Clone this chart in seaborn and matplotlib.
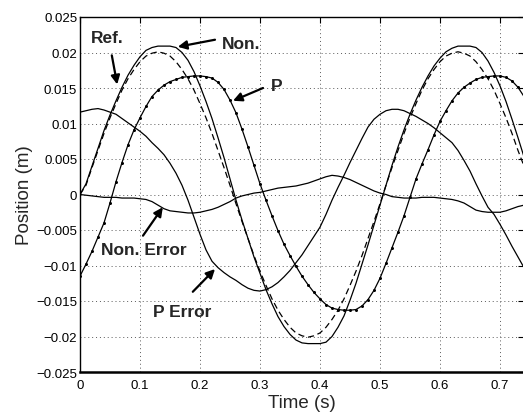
import numpy as np
import pandas as pd
import seaborn as sns
from matplotlib import pyplot as plt
from matplotlib.ticker import FuncFormatter

sns.set_style('white')
plt.rcParams['font.family'] = ['Liberation Sans', 'DejaVu Sans']

# time samples (s)
time = [0.00, 0.01, 0.02, 0.03, 0.04, 0.05, 0.06, 0.07, 0.08, 0.09,
        0.10, 0.11, 0.12, 0.13, 0.14, 0.15, 0.16, 0.17, 0.18, 0.19,
        0.20, 0.21, 0.22, 0.23, 0.24, 0.25, 0.26, 0.27, 0.28, 0.29,
        0.30, 0.31, 0.32, 0.33, 0.34, 0.35, 0.36, 0.37, 0.38, 0.39,
        0.40, 0.41, 0.42, 0.43, 0.44, 0.45, 0.46, 0.47, 0.48, 0.49,
        0.50, 0.51, 0.52, 0.53, 0.54, 0.55, 0.56, 0.57, 0.58, 0.59,
        0.60, 0.61, 0.62, 0.63, 0.64, 0.65, 0.66, 0.67, 0.68, 0.69,
        0.70, 0.71, 0.72, 0.73, 0.74]

# positions (m)
ref = [0.0000, 0.0013, 0.0038, 0.0062, 0.0086, 0.0108, 0.0128, 0.0147, 0.0163, 0.0176,
       0.0187, 0.0195, 0.0199, 0.0201, 0.0199, 0.0195, 0.0187, 0.0176, 0.0163, 0.0147,
       0.0128, 0.0108, 0.0086, 0.0062, 0.0038, 0.0013, -0.0013, -0.0038, -0.0062, -0.0086,
       -0.0108, -0.0128, -0.0147, -0.0163, -0.0176, -0.0187, -0.0195, -0.0199, -0.0201, -0.0199,
       -0.0195, -0.0187, -0.0176, -0.0163, -0.0147, -0.0128, -0.0108, -0.0086, -0.0062, -0.0038,
       -0.0013, 0.0013, 0.0038, 0.0062, 0.0086, 0.0108, 0.0128, 0.0147, 0.0163, 0.0176,
       0.0187, 0.0195, 0.0199, 0.0201, 0.0199, 0.0195, 0.0187, 0.0176, 0.0163, 0.0147,
       0.0128, 0.0108, 0.0086, 0.0062, 0.0040]

non = [0.0000, 0.0015, 0.0040, 0.0065, 0.0090, 0.0112, 0.0132, 0.0151, 0.0168, 0.0182,
       0.0194, 0.0203, 0.0207, 0.0209, 0.0209, 0.0209, 0.0207, 0.0200, 0.0189, 0.0173,
       0.0153, 0.0131, 0.0107, 0.0080, 0.0052, 0.0022, -0.0008, -0.0036, -0.0062, -0.0088,
       -0.0111, -0.0134, -0.0154, -0.0172, -0.0186, -0.0197, -0.0205, -0.0209, -0.0210, -0.0210,
       -0.0210, -0.0208, -0.0200, -0.0187, -0.0171, -0.0149, -0.0125, -0.0098, -0.0071, -0.0043,
       -0.0015, 0.0013, 0.0041, 0.0067, 0.0091, 0.0113, 0.0133, 0.0151, 0.0167, 0.0181,
       0.0192, 0.0201, 0.0206, 0.0209, 0.0209, 0.0209, 0.0207, 0.0200, 0.0188, 0.0172,
       0.0153, 0.0131, 0.0106, 0.0080, 0.0053]

p_ctrl = [-0.0115, -0.0098, -0.0080, -0.0060, -0.0040, -0.0012, 0.0018, 0.0045, 0.0070, 0.0091,
          0.0108, 0.0124, 0.0138, 0.0147, 0.0154, 0.0159, 0.0162, 0.0165, 0.0166, 0.0167,
          0.0167, 0.0166, 0.0164, 0.0158, 0.0148, 0.0133, 0.0115, 0.0092, 0.0067, 0.0041,
          0.0015, -0.0008, -0.0030, -0.0051, -0.0070, -0.0086, -0.0101, -0.0115, -0.0127, -0.0138,
          -0.0147, -0.0155, -0.0160, -0.0162, -0.0163, -0.0163, -0.0162, -0.0157, -0.0148, -0.0135,
          -0.0118, -0.0097, -0.0075, -0.0053, -0.0030, -0.0004, 0.0022, 0.0043, 0.0063, 0.0084,
          0.0103, 0.0118, 0.0132, 0.0143, 0.0151, 0.0157, 0.0162, 0.0165, 0.0166, 0.0167,
          0.0167, 0.0165, 0.0160, 0.0151, 0.0138]

non_err = [0.0000, -0.0001, -0.0002, -0.0003, -0.0004, -0.0004, -0.0004, -0.0005, -0.0005, -0.0005,
           -0.0006, -0.0007, -0.0010, -0.0015, -0.0020, -0.0023, -0.0024, -0.0025, -0.0026, -0.0026,
           -0.0025, -0.0023, -0.0021, -0.0018, -0.0014, -0.0010, -0.0005, -0.0002, 0.0000, 0.0002,
           0.0003, 0.0005, 0.0007, 0.0009, 0.0010, 0.0011, 0.0012, 0.0014, 0.0016, 0.0019,
           0.0022, 0.0025, 0.0027, 0.0026, 0.0024, 0.0021, 0.0017, 0.0013, 0.0009, 0.0005,
           0.0002, 0.0000, -0.0003, -0.0004, -0.0005, -0.0005, -0.0005, -0.0004, -0.0004, -0.0004,
           -0.0005, -0.0006, -0.0007, -0.0009, -0.0012, -0.0017, -0.0022, -0.0024, -0.0025, -0.0025,
           -0.0025, -0.0023, -0.0020, -0.0017, -0.0015]

p_err = [0.0116, 0.0118, 0.0120, 0.0121, 0.0119, 0.0116, 0.0113, 0.0107, 0.0101, 0.0095,
         0.0089, 0.0082, 0.0073, 0.0065, 0.0056, 0.0044, 0.0030, 0.0013, -0.0008, -0.0032,
         -0.0056, -0.0078, -0.0094, -0.0103, -0.0110, -0.0116, -0.0121, -0.0127, -0.0132, -0.0135,
         -0.0136, -0.0134, -0.0130, -0.0124, -0.0116, -0.0107, -0.0096, -0.0085, -0.0072, -0.0059,
         -0.0046, -0.0028, -0.0008, 0.0010, 0.0027, 0.0045, 0.0062, 0.0079, 0.0095, 0.0106,
         0.0113, 0.0118, 0.0120, 0.0120, 0.0118, 0.0114, 0.0110, 0.0105, 0.0100, 0.0094,
         0.0087, 0.0080, 0.0073, 0.0062, 0.0048, 0.0033, 0.0015, -0.0002, -0.0018, -0.0028,
         -0.0042, -0.0057, -0.0073, -0.0088, -0.0103]

xticks = [0, 0.1, 0.2, 0.3, 0.4, 0.5, 0.6, 0.7]
yticks = [-0.025, -0.02, -0.015, -0.01, -0.005, 0, 0.005, 0.01, 0.015, 0.02, 0.025]

# label text, text centre, arrow tail, arrow head (data coords)
notes = [
    ('Ref.', (0.045, 0.0221), (0.053, 0.0196), (0.062, 0.0155)),
    ('Non.', (0.268, 0.0213), (0.225, 0.0218), (0.163, 0.0208)),
    ('P', (0.328, 0.0154), (0.305, 0.0150), (0.255, 0.0132)),
    ('Non. Error', (0.107, -0.0077), (0.105, -0.0058), (0.138, -0.0018)),
    ('P Error', (0.170, -0.0165), (0.188, -0.0137), (0.225, -0.0105)),
]

fig = plt.figure(figsize=(5.23, 4.14), dpi=100)
ax = fig.add_axes([80 / 523, 41 / 414, 444 / 523, 355 / 414])

sns.lineplot(x=time, y=ref, ax=ax, color='k', lw=0.9, linestyle=(0, (5, 3)))
sns.lineplot(x=time, y=non, ax=ax, color='k', lw=0.9)
sns.lineplot(x=time, y=p_ctrl, ax=ax, color='k', lw=0.9, marker='o', markersize=1.4,
             markeredgecolor='k', markerfacecolor='k')
sns.lineplot(x=time, y=non_err, ax=ax, color='k', lw=0.9)
sns.lineplot(x=time, y=p_err, ax=ax, color='k', lw=0.9)

for label, txt, tail, head in notes:
    ax.text(txt[0], txt[1], label, ha='center', va='center', fontsize=12.5, fontweight='bold')
    ax.annotate('', xy=head, xytext=tail,
                arrowprops=dict(arrowstyle='-|>', color='k', lw=1.6, mutation_scale=13,
                                shrinkA=0, shrinkB=0))

ax.set_xlim(0, 0.74)
ax.set_ylim(-0.025, 0.025)
ax.set_xticks(xticks)
ax.set_yticks(yticks)
fmt = FuncFormatter(lambda v, pos: ('%g' % round(v, 4)).replace('-', '\u2212'))
ax.xaxis.set_major_formatter(fmt)
ax.yaxis.set_major_formatter(fmt)
ax.tick_params(direction='in', top=True, right=True, length=4, width=0.8,
               labelsize=9.5, colors='k', pad=2)
ax.tick_params(axis='x', pad=5)
ax.grid(True, color='0.35', linestyle=(0, (1, 3)), lw=0.7)
for side in ax.spines.values():
    side.set_color('k')
    side.set_linewidth(1.0)
ax.spines['bottom'].set_linewidth(1.8)

ax.set_xlabel('Time (s)', fontsize=13.5, labelpad=2)
ax.set_ylabel('Position (m)', fontsize=13.5, labelpad=2)

fig.savefig('out.png', dpi=100)
